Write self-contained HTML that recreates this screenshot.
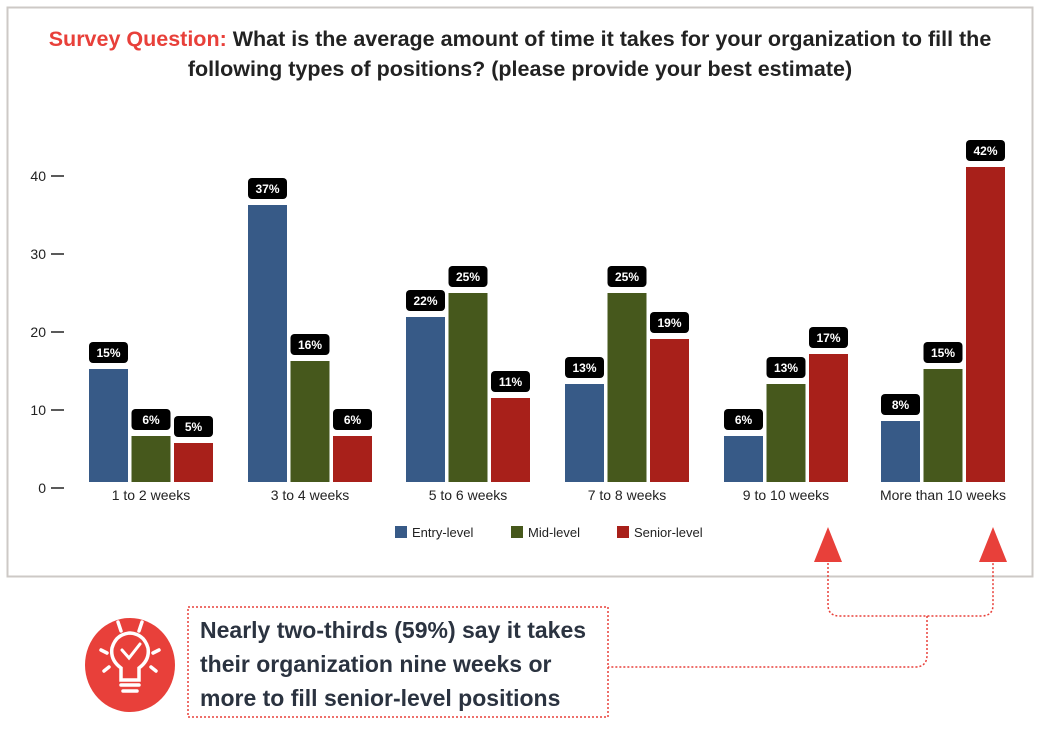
<!DOCTYPE html>
<html><head><meta charset="utf-8"><style>
html,body{margin:0;padding:0;background:#fff;}
body{width:1038px;height:727px;overflow:hidden;font-family:"Liberation Sans",sans-serif;}
</style></head><body>
<svg width="1038" height="727" viewBox="0 0 1038 727" xmlns="http://www.w3.org/2000/svg" font-family="Liberation Sans, sans-serif">
<rect x="7.5" y="7.5" width="1025" height="569" fill="#fff" stroke="#cdc9c6" stroke-width="2"/>
<text x="520" y="46" text-anchor="middle" font-size="21.5" font-weight="bold" fill="#222"><tspan fill="#e8403a">Survey Question:</tspan> What is the average amount of time it takes for your organization to fill the</text>
<text x="520" y="76" text-anchor="middle" font-size="21.5" font-weight="bold" fill="#222">following types of positions? (please provide your best estimate)</text>
<g font-size="14" fill="#222" text-anchor="end">
<text x="46" y="493">0</text><text x="46" y="415">10</text><text x="46" y="337">20</text><text x="46" y="259">30</text><text x="46" y="181">40</text>
</g>
<g stroke="#222" stroke-width="1.5">
<line x1="51" y1="488" x2="64" y2="488"/><line x1="51" y1="410" x2="64" y2="410"/><line x1="51" y1="332" x2="64" y2="332"/><line x1="51" y1="254" x2="64" y2="254"/><line x1="51" y1="176" x2="64" y2="176"/>
</g>
<g id="bars"></g>
<g font-size="14" fill="#222" text-anchor="middle">
<text x="151" y="500">1 to 2 weeks</text><text x="310" y="500">3 to 4 weeks</text><text x="468" y="500">5 to 6 weeks</text><text x="627" y="500">7 to 8 weeks</text><text x="786" y="500">9 to 10 weeks</text><text x="943" y="500">More than 10 weeks</text>
</g>
<rect x="395" y="526" width="12" height="12" fill="#375a87"/><text x="412" y="537" font-size="13" fill="#222">Entry-level</text>
<rect x="511" y="526" width="12" height="12" fill="#46581c"/><text x="528" y="537" font-size="13" fill="#222">Mid-level</text>
<rect x="617" y="526" width="12" height="12" fill="#a8201a"/><text x="634" y="537" font-size="13" fill="#222">Senior-level</text>
<polygon points="828,527 814,562 842,562" fill="#e8403a"/>
<polygon points="993,527 979,562 1007,562" fill="#e8403a"/>
<path d="M828,563 V605 Q828,616 840,616 H981 Q993,616 993,605 V563 M927,616 V655 Q927,667 915,667 H608" fill="none" stroke="#e8403a" stroke-width="1.5" stroke-dasharray="2,2"/>
<rect x="188" y="607" width="420" height="110" fill="none" stroke="#e8403a" stroke-width="1.5" stroke-dasharray="2,2"/>
<ellipse cx="130" cy="665" rx="45" ry="47" fill="#e8403a"/>
<g stroke="#fff" stroke-width="3.5" fill="none" stroke-linecap="round">
<path d="M121,680 V668 Q110,660 112,648 Q116,634 130,633 Q144,634 148,648 Q150,660 139,668 V680 Z"/>
<path d="M122,650 L129,658 L140,644" stroke-width="3"/>
<line x1="121" y1="685" x2="139" y2="685"/><line x1="123" y1="691" x2="137" y2="691"/>
<line x1="118" y1="622" x2="121" y2="631"/><line x1="142" y1="622" x2="139" y2="631"/>
<line x1="101" y1="650" x2="107" y2="653"/><line x1="159" y1="650" x2="153" y2="653"/>
<line x1="104" y1="671" x2="109" y2="667"/><line x1="156" y1="671" x2="151" y2="667"/>
</g>
<g font-size="23" font-weight="bold" fill="#2b3340">
<text x="200" y="638">Nearly two-thirds (59%) say it takes</text>
<text x="200" y="672">their organization nine weeks or</text>
<text x="200" y="706">more to fill senior-level positions</text>
</g>
</svg>
<script>
var starts=[89,248,406,565,724,881];
var tops=[[369,436,443],[205,361,436],[317,293,398],[384,293,339],[436,384,354],[421,369,167]];
var labs=[["15%","6%","5%"],["37%","16%","6%"],["22%","25%","11%"],["13%","25%","19%"],["6%","13%","17%"],["8%","15%","42%"]];
var cols=["#375a87","#46581c","#a8201a"];
var s="";
for(var g=0;g<6;g++)for(var i=0;i<3;i++){var x=starts[g]+i*42.5,t=tops[g][i];
s+='<rect x="'+x+'" y="'+t+'" width="39" height="'+(482-t)+'" fill="'+cols[i]+'"/>';
s+='<rect x="'+x+'" y="'+(t-27)+'" width="39" height="21" rx="4" fill="#000"/>';
s+='<text x="'+(x+19.5)+'" y="'+(t-12)+'" text-anchor="middle" font-size="12" font-weight="bold" fill="#fff">'+labs[g][i]+'</text>';}
document.getElementById("bars").innerHTML=s;
</script>
</body></html>
